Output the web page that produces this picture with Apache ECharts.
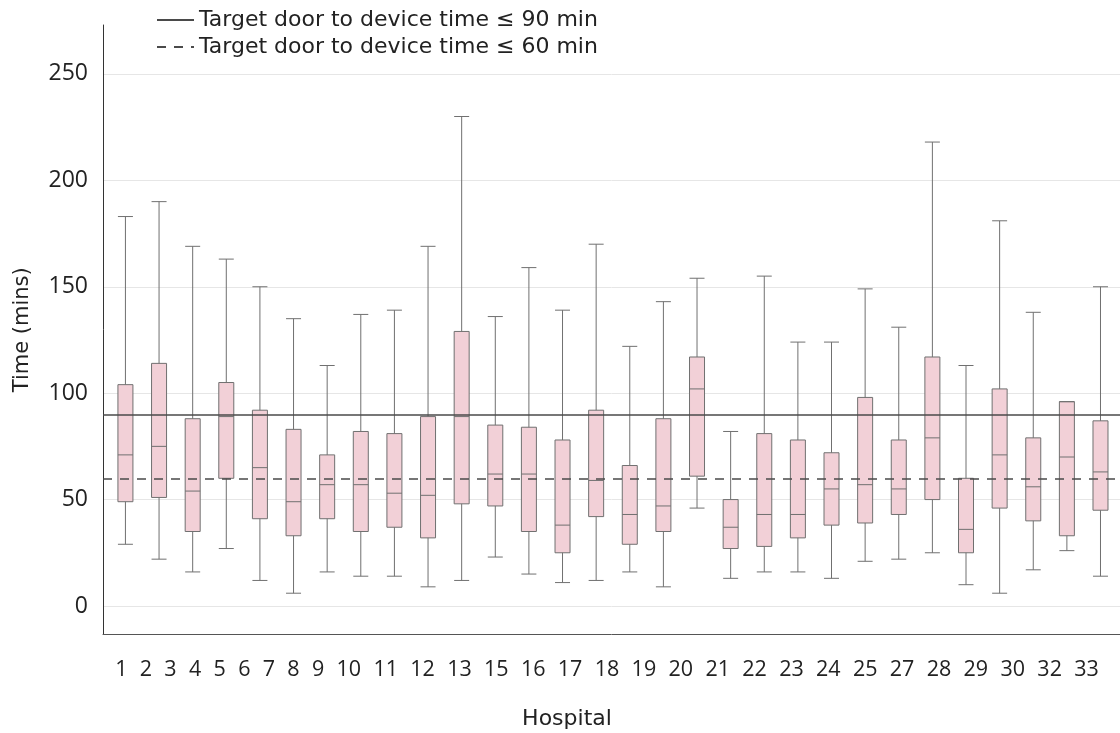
<!DOCTYPE html>
<html>
<head>
<meta charset="utf-8">
<script src="https://cdn.jsdelivr.net/npm/echarts@6/dist/echarts.min.js"></script>
<style>html,body{margin:0;padding:0;background:#fff}#c{width:1120px;height:733px}</style>
</head>
<body>
<div id="c"></div>
<script>
// ---- data ----
const hospitals = ['1','2','3','4','5','6','7','8','9','10','11','12','13','15','16','17','18','19','20','21','22','23','24','25','27','28','29','30','32','33'];
const whiskerLow  = [29, 22, 16, 27, 12,  6, 16, 14, 14,  9, 12, 23, 15, 11, 12, 16,  9,  46, 13, 16, 16, 13, 21, 22, 25, 10,  6, 17, 26, 14];
const q1          = [49, 51, 35, 60, 41, 33, 41, 35, 37, 32, 48, 47, 35, 25, 42, 29, 35,  61, 27, 28, 32, 38, 39, 43, 50, 25, 46, 40, 33, 45];
const median      = [71, 75, 54, 89, 65, 49, 57, 57, 53, 52, 89, 62, 62, 38, 59, 43, 47, 102, 37, 43, 43, 55, 57, 55, 79, 36, 71, 56, 70, 63];
const q3          = [104,114, 88,105, 92, 83, 71, 82, 81, 89,129, 85, 84, 78, 92, 66, 88, 117, 50, 81, 78, 72, 98, 78,117, 60,102, 79, 96, 87];
const whiskerHigh = [183,190,169,163,150,135,113,137,139,169,230,136,159,139,170,122,143, 154, 82,155,124,124,149,131,218,113,181,138, 96,150];
const targetNames  = ['Target door to device time \u2264 90 min', 'Target door to device time \u2264 60 min'];
const targetValues = [90, 60];
const xAxisTitle = 'Hospital';
const yAxisTitle = 'Time (mins)';

// ---- chart ----
const NUMFONT = '"Open Sans", "Noto Sans", sans-serif';
const TXTFONT = '"DejaVu Sans", "Open Sans", sans-serif';
const chart = echarts.init(document.getElementById('c'), null, {renderer: 'canvas'});
const boxData = hospitals.map((h, i) => [i + 1, whiskerLow[i], q1[i], median[i], q3[i], whiskerHigh[i]]);

const option = {
  animation: false,
  backgroundColor: '#fff',
  textStyle: {fontFamily: NUMFONT},
  grid: {left: 103, right: 0, top: 25, bottom: 98.5, containLabel: false},
  legend: {
    orient: 'vertical', left: 151, top: 4, itemGap: 5,
    itemWidth: 37, itemHeight: 14,
    textStyle: {fontSize: 22, color: '#222', fontFamily: TXTFONT},
    itemStyle: {opacity: 0},
    data: targetNames.map(n => ({name: n}))
  },
  xAxis: {
    type: 'value', min: 0.333, max: 30.58,
    axisLine: {show: true, onZero: false, lineStyle: {color: '#555', width: 1}},
    axisTick: {show: false}, axisLabel: {show: false}, splitLine: {show: false}
  },
  yAxis: {
    type: 'value', min: -13.4, max: 273,
    axisLine: {show: true, lineStyle: {color: '#333', width: 1}},
    axisTick: {show: false},
    axisLabel: {
      showMinLabel: false, showMaxLabel: false, fontSize: 23, color: '#222', margin: 15, fontFamily: NUMFONT,
      formatter: v => (Math.abs(v % 50) < 1e-6 ? String(v) : '')
    },
    splitLine: {show: true, showMinLine: false, showMaxLine: false, lineStyle: {color: '#e6e6e6', width: 1}},
    name: yAxisTitle, nameLocation: 'middle', nameGap: 70,
    nameTextStyle: {fontSize: 21, color: '#222', fontFamily: TXTFONT}
  },
  series: [
    {
      type: 'boxplot', name: 'Door to device',
      data: boxData, boxWidth: [15, 15],
      itemStyle: {color: '#f2d0d7', borderColor: '#707070', borderWidth: 1},
      emphasis: {disabled: true}, silent: true
    },
    {
      type: 'line', name: targetNames[0], data: [], symbol: 'none',
      lineStyle: {color: '#4a4a4a', width: 1.5, type: 'solid'},
      markLine: {silent: true, symbol: ['none', 'none'], label: {show: false},
        lineStyle: {color: '#4a4a4a', width: 1.5, type: 'solid'},
        data: [{yAxis: targetValues[0]}]}
    },
    {
      type: 'line', name: targetNames[1], data: [], symbol: 'none',
      lineStyle: {color: '#4a4a4a', width: 1.5, type: [9, 8]},
      markLine: {silent: true, symbol: ['none', 'none'], label: {show: false},
        lineStyle: {color: '#4a4a4a', width: 1.5, type: [9, 8]},
        data: [{yAxis: targetValues[1]}]}
    }
  ],
  graphic: [
    {
      type: 'text', x: 607, y: 670, silent: true,
      style: {
        text: hospitals.map(h => '{t|' + h + '}').join(''),
        align: 'center', verticalAlign: 'middle',
        rich: {t: {padding: [0, 6.15, 0, 6.15], fontSize: 21.5, fontFamily: NUMFONT, fill: '#222'}}
      }
    },
    {
      type: 'text', x: 567, y: 719, silent: true,
      style: {text: xAxisTitle, align: 'center', verticalAlign: 'middle', fontSize: 22, fontFamily: TXTFONT, fill: '#222'}
    }
  ]
};
chart.setOption(option);
</script>
</body>
</html>
